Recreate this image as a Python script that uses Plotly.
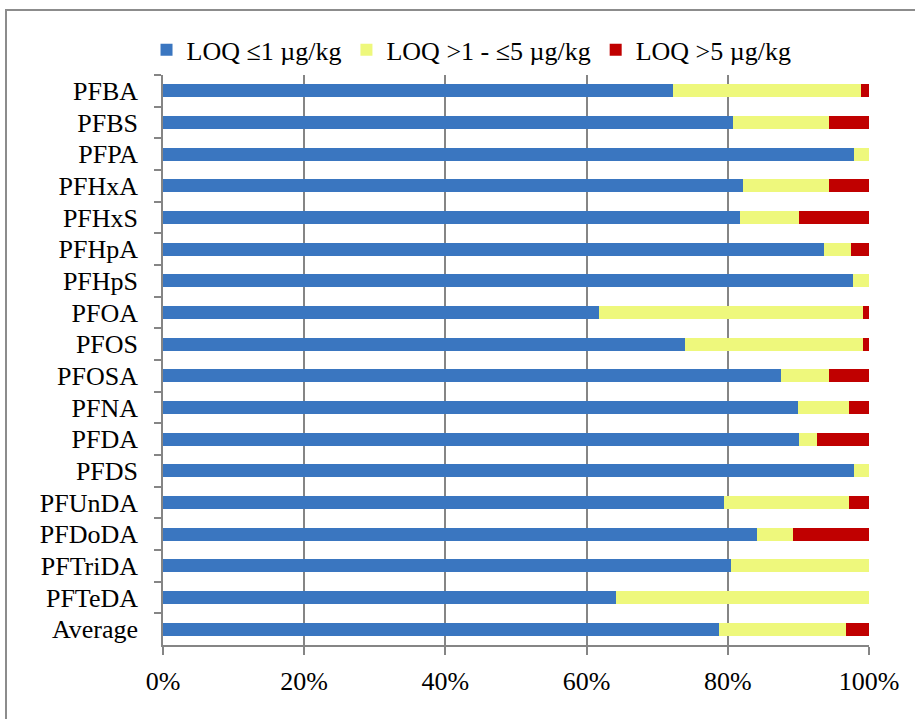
import plotly.graph_objects as go

# Share of samples (%) per substance, by limit of quantification (LOQ) class
substances = ["PFBA", "PFBS", "PFPA", "PFHxA", "PFHxS", "PFHpA", "PFHpS", "PFOA", "PFOS",
              "PFOSA", "PFNA", "PFDA", "PFDS", "PFUnDA", "PFDoDA", "PFTriDA", "PFTeDA", "Average"]
loq_low = [72.3, 80.8, 97.9, 82.2, 81.7, 93.6, 97.8, 61.8, 73.9,
           87.5, 89.9, 90.1, 97.9, 79.5, 84.2, 80.4, 64.1, 78.7]
loq_mid = [26.5, 13.5, 2.1, 12.1, 8.4, 3.8, 2.2, 37.3, 25.2,
           6.8, 7.2, 2.6, 2.1, 17.7, 5.1, 19.6, 35.9, 18.0]
loq_high = [1.2, 5.7, 0.0, 5.7, 9.9, 2.6, 0.0, 0.9, 0.9,
            5.7, 2.9, 7.3, 0.0, 2.8, 10.7, 0.0, 0.0, 3.3]

series_names = ["LOQ \u22641 \u00b5g/kg", "LOQ >1 - \u22645 \u00b5g/kg", "LOQ >5 \u00b5g/kg"]
series_colors = ["#3A76C0", "#EEF87C", "#C00000"]

FONT = "Liberation Serif, Times New Roman, serif"

fig = go.Figure()
for name, vals, col in zip(series_names, [loq_low, loq_mid, loq_high], series_colors):
    fig.add_trace(go.Bar(
        y=substances, x=vals, name=name, orientation="h",
        marker=dict(color=col, line=dict(width=0)),
        hoverinfo="x+y+name",
    ))

fig.update_layout(
    barmode="stack",
    barnorm="percent",
    bargap=0.58,
    width=915, height=719,
    margin=dict(l=163, r=46, t=75, b=74),
    paper_bgcolor="white",
    plot_bgcolor="white",
    font=dict(family=FONT, size=26, color="black"),
    legend=dict(
        orientation="h", x=0.437, xanchor="center", y=1.003, yanchor="bottom",
        font=dict(family=FONT, size=26, color="black"),
        itemwidth=30, traceorder="normal", tracegroupgap=0,
        bgcolor="rgba(0,0,0,0)",
    ),
    xaxis=dict(
        range=[0, 100], tickvals=[0, 20, 40, 60, 80, 100],
        ticktext=["0%", "20%", "40%", "60%", "80%", "100%"],
        showgrid=True, gridcolor="#858585", gridwidth=1.5,
        showline=True, linecolor="#858585", linewidth=1.5,
        ticks="outside", ticklen=8, tickcolor="#858585", tickwidth=1.5,
        ticklabelstandoff=4, zeroline=False, fixedrange=True,
    ),
    yaxis=dict(
        categoryorder="array", categoryarray=substances, autorange="reversed",
        showline=True, linecolor="#858585", linewidth=1.5,
        ticks="outside", ticklen=7, tickcolor="#858585", tickwidth=1.5,
        tickson="boundaries", ticklabelstandoff=18,
        showgrid=False, fixedrange=True,
    ),
    shapes=[dict(
        type="rect", xref="paper", yref="paper",
        x0=(6 - 163) / 706, x1=(925 - 163) / 706,
        y0=(645 - 730) / 570, y1=1 + (75 - 10) / 570,
        line=dict(color="#8C8C8C", width=2), fillcolor="rgba(0,0,0,0)", layer="below",
    )],
)

fig.write_html("out.html")
